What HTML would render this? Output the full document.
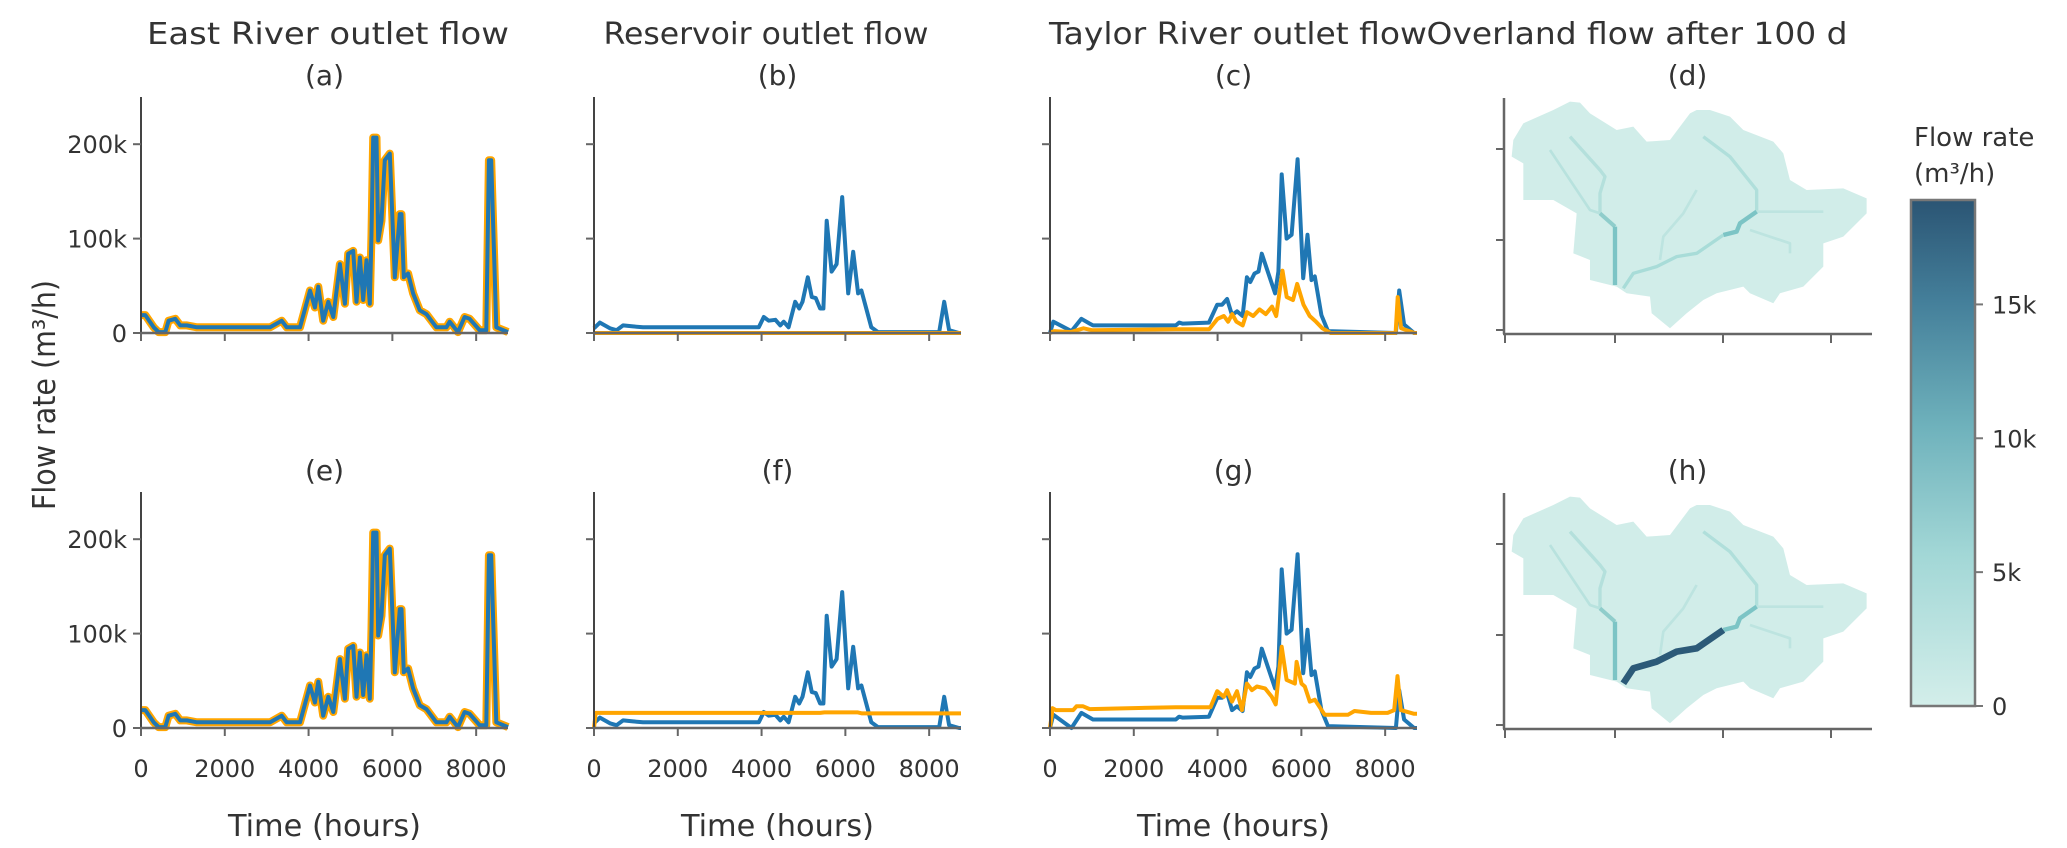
<!DOCTYPE html>
<html><head><meta charset="utf-8"><title>Flow rate panels</title>
<style>
html,body{margin:0;padding:0;background:#fff;}
svg{display:block;font-family:"DejaVu Sans","Liberation Sans",sans-serif;}
</style></head>
<body>
<svg id="fig" width="2067" height="848" viewBox="0 0 2067 848" xmlns="http://www.w3.org/2000/svg">
<defs>
<linearGradient id="cbgrad" x1="0" y1="1" x2="0" y2="0">
<stop offset="0" stop-color="#d3eeea"/>
<stop offset="0.3" stop-color="#a2d7d6"/>
<stop offset="0.55" stop-color="#6fb2bc"/>
<stop offset="0.8" stop-color="#447f9a"/>
<stop offset="1" stop-color="#2b5574"/>
</linearGradient>
</defs>
</svg>
<script>
// ---------- data (time in hours, flow in thousand m3/h) ----------
const xTicks = [0, 2000, 4000, 6000, 8000];
const xTickLabels = ["0", "2000", "4000", "6000", "8000"];
const yTicks = [0, 100, 200];
const yTickLabels = ["0", "100k", "200k"];
const cbTicks = [0, 5, 10, 15];
const cbTickLabels = ["0", "5k", "10k", "15k"];
const colTitles = ["East River outlet flow", "Reservoir outlet flow", "Taylor River outlet flow", "Overland flow after 100 d"];
const panelLabels = ["(a)", "(b)", "(c)", "(d)", "(e)", "(f)", "(g)", "(h)"];

const tA = [0,103,302,421,580,659,818,937,1096,1334,2207,3081,3359,3478,3795,4033,4152,4231,4350,4470,4589,4748,4867,4946,5065,5145,5224,5303,5383,5462,5502,5542,5621,5661,5740,5820,5939,6058,6177,6217,6272,6376,6495,6654,6812,7050,7289,7368,7567,7725,7844,8083,8242,8305,8360,8480,8760];
const aBlue = [19,19,6,1,1,13,15,8,8,6,6,6,13,6,6,45,27,49,13,33,17,73,31,84,87,33,80,35,77,31,105,207,207,98,119,183,190,59,126,126,59,63,42,24,20,6,6,12,1,17,15,3,3,183,183,6,1];
const aOrange = [19,19,6,1,1,13,15,8,8,6,6,6,13,6,6,45,27,49,13,33,17,73,31,84,87,33,80,35,77,31,105,207,207,98,119,183,190,59,126,126,59,63,42,24,20,6,6,12,1,17,15,3,3,183,183,6,1];
const eBlue = [19,19,6,1,1,13,15,8,8,6,6,6,13,6,6,45,27,49,13,33,17,73,31,84,87,33,80,35,77,31,105,207,207,98,119,183,190,59,126,126,59,63,42,24,20,6,6,12,1,17,15,3,3,183,183,6,1];
const eOrange = [19,19,6,1,1,13,15,8,8,6,6,6,13,6,6,45,27,49,13,33,17,73,31,84,87,33,80,35,77,31,105,207,207,98,119,183,190,59,126,126,59,63,42,24,20,6,6,12,1,17,15,3,3,183,183,6,1];

const tB = [0,142,379,537,695,932,1169,3934,4053,4171,4329,4447,4527,4645,4803,4898,4977,5103,5198,5293,5396,5475,5554,5672,5791,5925,6067,6186,6305,6383,6620,6778,8240,8358,8477,8714,8760];
const bBlue = [5,11,5,3,8,7,6,6,17,13,14,8,12,6,33,26,33,59,38,37,26,26,119,65,73,144,42,86,42,45,6,1,1,33,3,0,0];
const fBlue = [5,11,5,3,8,7,6,6,17,13,14,8,12,6,33,26,33,59,38,37,26,26,119,65,73,144,42,86,42,45,6,1,1,33,3,0,0];
const tBo = [0, 8760];
const bOrange = [0, 0];
const tFo = [0, 40, 5400, 5500, 6300, 6400, 8760];
const fOrange = [0, 16, 16, 16.5, 16.5, 15.5, 15.5];

const tG = [0,79,514,750,948,1027,3002,3081,3160,3792,3990,4108,4227,4345,4463,4598,4700,4780,4882,4977,5056,5214,5372,5451,5530,5648,5767,5909,6043,6146,6241,6320,6478,6636,8256,8335,8453,8690,8760];
const cBlue = [0,12,2,15,10,8,8,11,10,11,30,30,36,19,23,18,59,54,63,65,84,63,42,65,168,100,104,184,58,104,56,60,19,2,0,45,9,0,0];
const gBlue = [0,14,0,16,11,9,9,12,11,12,32,32,37,19,23,18,59,54,63,65,84,63,42,65,168,100,104,184,58,104,56,60,19,2,0,40,9,0,0];
const tCo = [0,100,500,800,1000,3000,3800,4000,4150,4250,4350,4450,4600,4700,4850,5000,5150,5300,5400,5550,5650,5800,5900,6050,6200,6350,6500,6700,8250,8300,8380,8700,8760];
const cOrange = [0,2,1,5,3,4,4,15,18,12,20,12,8,22,18,25,20,28,18,66,38,35,52,30,18,12,5,0,0,38,5,0,0];
const tGo = [0,63,142,553,632,790,948,3002,3832,3990,4148,4227,4345,4463,4582,4700,4819,4938,5135,5293,5388,5530,5648,5846,5885,6004,6083,6202,6320,6557,7110,7268,7663,8058,8216,8295,8374,8690,8760];
const gOrange = [0,21,19,19,23,23,20,22,22,39,33,40,28,39,19,47,40,44,42,33,25,86,51,47,70,47,44,28,30,14,14,18,16,16,19,55,19,15,15];

// ---------- layout ----------
const NS = "http://www.w3.org/2000/svg";
const svg = document.getElementById("fig");
const colX = [141, 594, 1050, 1504];
const plotW = 367;
const rowBottom = [333, 728];
const plotH = 236;
const yMax = 250;
const tMax = 8760;
const AX = "#444";
const BLUE = "#1f77b4", ORANGE = "#ffa500";

function mk(tag, attrs, parent) {
  const e = document.createElementNS(NS, tag);
  for (const k in attrs) e.setAttribute(k, attrs[k]);
  (parent || svg).appendChild(e);
  return e;
}
function xs(col, t) { return colX[col] + t / tMax * plotW; }
function ys(row, v) { return rowBottom[row] - v / yMax * plotH; }

// column titles
const titleCx = [328, 766, 1238, 1637];
const titleLen = [362, 325, 378, 421];
colTitles.forEach((s, i) => {
  const t = mk("text", {x: titleCx[i], y: 44, "text-anchor": "middle", "font-size": 30, fill: "#333", textLength: titleLen[i], lengthAdjust: "spacingAndGlyphs"});
  
  
  t.textContent = s;
});

// panel labels
panelLabels.forEach((s, i) => {
  const col = i % 4, row = Math.floor(i / 4);
  const t = mk("text", {x: colX[col] + plotW / 2, y: 85 + row * 395, "text-anchor": "middle", "font-size": 28, fill: "#333"});
  
  
  t.textContent = s;
});

// y axis title
const yt = mk("text", {x: 0, y: 0, transform: "translate(55,395) rotate(-90)", "text-anchor": "middle", "font-size": 31, fill: "#333", textLength: 230, lengthAdjust: "spacingAndGlyphs"});


yt.textContent = "Flow rate (m³/h)";

function line(g, ts, vs, col, row, color, w) {
  const pts = ts.map((t, i) => xs(col, t).toFixed(1) + "," + ys(row, vs[i]).toFixed(1)).join(" ");
  return mk("polyline", {points: pts, fill: "none", stroke: color, "stroke-width": w, "stroke-linejoin": "round"}, g);
}

function timePanel(col, row, series, showYLabels, showXLabels, name) {
  const g = mk("g", {});
  
  
  const x0 = colX[col], yb = rowBottom[row];
  series.forEach(s => {
    const l = line(g, s.t, s.v, col, row, s.c, s.w);
    
    
  });
  const ya = mk("line", {x1: x0, y1: yb - plotH, x2: x0, y2: yb, stroke: AX, "stroke-width": 2}, g);
  
  
  const xa = mk("line", {x1: x0 - 1, y1: yb, x2: x0 + plotW, y2: yb, stroke: "#666", "stroke-width": 2.5}, g);
  
  
  yTicks.forEach((v, i) => {
    const yy = ys(row, v);
    const tk = mk("line", {x1: x0 - 8, y1: yy, x2: x0, y2: yy, stroke: "#666", "stroke-width": 2}, g);
    
    
    if (showYLabels) {
      const tl = mk("text", {x: x0 - 14, y: yy + 9, "text-anchor": "end", "font-size": 24, fill: "#333"}, g);
      
      
      tl.textContent = yTickLabels[i];
    }
  });
  xTicks.forEach((t, i) => {
    const xx = xs(col, t);
    const tk = mk("line", {x1: xx, y1: yb, x2: xx, y2: yb + 8, stroke: "#666", "stroke-width": 2}, g);
    
    
    if (showXLabels) {
      const tl = mk("text", {x: xx, y: yb + 49, "text-anchor": "middle", "font-size": 24, fill: "#333"}, g);
      
      
      tl.textContent = xTickLabels[i];
    }
  });
  if (showXLabels) {
    const xt = mk("text", {x: x0 + plotW / 2, y: yb + 108, "text-anchor": "middle", "font-size": 30, fill: "#333", textLength: 193, lengthAdjust: "spacingAndGlyphs"}, g);
    
    
    xt.textContent = "Time (hours)";
  }
}

timePanel(0, 0, [{t: tA, v: aOrange, c: ORANGE, w: 8, n: 'series-orange'}, {t: tA, v: aBlue, c: BLUE, w: 4, n: 'series-blue'}], true, false, 'panel-a');
timePanel(1, 0, [{t: tB, v: bBlue, c: BLUE, w: 4, n: 'series-blue'}, {t: tBo, v: bOrange, c: ORANGE, w: 4, n: 'series-orange'}], false, false, 'panel-b');
timePanel(2, 0, [{t: tG, v: cBlue, c: BLUE, w: 4, n: 'series-blue'}, {t: tCo, v: cOrange, c: ORANGE, w: 4, n: 'series-orange'}], false, false, 'panel-c');
timePanel(0, 1, [{t: tA, v: eOrange, c: ORANGE, w: 8, n: 'series-orange'}, {t: tA, v: eBlue, c: BLUE, w: 4, n: 'series-blue'}], true, true, 'panel-e');
timePanel(1, 1, [{t: tB, v: fBlue, c: BLUE, w: 4, n: 'series-blue'}, {t: tFo, v: fOrange, c: ORANGE, w: 4, n: 'series-orange'}], false, true, 'panel-f');
timePanel(2, 1, [{t: tG, v: gBlue, c: BLUE, w: 4, n: 'series-blue'}, {t: tGo, v: gOrange, c: ORANGE, w: 4, n: 'series-orange'}], false, true, 'panel-g');

// ---------- maps ----------
const outline = "100,130 190,90 240,65 270,68 300,100 380,150 430,140 470,185 540,180 600,100 620,90 660,90 720,110 760,150 850,185 880,220 900,300 950,330 1060,325 1130,355 1130,400 1060,470 1000,490 1000,560 940,620 870,640 850,670 780,640 760,620 680,640 640,660 590,700 540,745 485,700 480,650 410,640 380,620 300,600 300,540 250,520 260,400 190,360 100,360 100,250 65,230 70,180";
const rivers = [
  {p: "240,170 330,270 345,290 330,340 330,400", c: "#b4e0dc", w: 10},
  {p: "180,210 300,390 330,400", c: "#b8e2de", w: 8},
  {p: "330,400 375,440", c: "#8fcdcb", w: 12},
  {p: "375,440 375,615", c: "#7cc4c5", w: 13},
  {p: "640,170 720,230 800,330 800,395", c: "#b0dfdb", w: 10},
  {p: "800,395 1000,395", c: "#bde4e0", w: 8},
  {p: "780,450 900,490 900,520", c: "#bde4e0", w: 8},
  {p: "510,540 520,470 580,400 620,330", c: "#bde4e0", w: 8},
  {p: "800,395 750,430 740,455 700,465", c: "#7cc4c5", w: 13}
];
const mainRiver = "400,625 430,580 500,560 560,530 620,520 700,465";

function mapPanel(row, name, dark) {
  const g = mk("g", {});
  
  
  const inner = mk("g", {transform: "translate(1490," + (80 + row * 395) + ") scale(0.3333)"}, g);
  const poly = mk("polygon", {points: outline, fill: "#d1ede9"}, inner);
  
  
  rivers.forEach(r => {
    const pl = mk("polyline", {points: r.p, fill: "none", stroke: r.c, "stroke-width": r.w, "stroke-linejoin": "round"}, inner);
    
    
  });
  const mr = mk("polyline", {points: mainRiver, fill: "none", stroke: dark ? "#2c5a78" : "#a8dcd8", "stroke-width": dark ? 20 : 10, "stroke-linejoin": "round"}, inner);
  
  
  const yb = rowBottom[row] + 1;
  const ya = mk("line", {x1: 1504, y1: yb - plotH, x2: 1504, y2: yb, stroke: "#666", "stroke-width": 2.5}, g);
  
  
  const xa = mk("line", {x1: 1503, y1: yb, x2: 1872, y2: yb, stroke: "#666", "stroke-width": 2.5}, g);
  
  
  [149, 240, 330].forEach(y => {
    const tk = mk("line", {x1: 1496, y1: y + row * 395, x2: 1504, y2: y + row * 395, stroke: "#666", "stroke-width": 2}, g);
    
    
  });
  [1505, 1615, 1723, 1831].forEach(x => {
    const tk = mk("line", {x1: x, y1: yb, x2: x, y2: yb + 9, stroke: "#666", "stroke-width": 2}, g);
    
    
  });
}
mapPanel(0, 'panel-d', false);
mapPanel(1, 'panel-h', true);

// ---------- colorbar ----------
const cbTop = 200, cbBot = 706, cbX = 1911, cbW = 64, cbMax = 18.9;
const cbg = mk("g", {});


const cbr = mk("rect", {x: cbX, y: cbTop, width: cbW, height: cbBot - cbTop, fill: "url(#cbgrad)", stroke: "#777", "stroke-width": 2.5}, cbg);


cbTicks.forEach((v, i) => {
  const y = cbBot - v / cbMax * (cbBot - cbTop);
  const tk = mk("line", {x1: cbX + cbW, y1: y, x2: cbX + cbW + 8, y2: y, stroke: "#777", "stroke-width": 2}, cbg);
  
  
  const tl = mk("text", {x: 1992, y: y + 9, "font-size": 24, fill: "#333"}, cbg);
  
  
  tl.textContent = cbTickLabels[i];
});
const ct1 = mk("text", {x: 1914, y: 146, "font-size": 26, fill: "#333"}, cbg);


ct1.textContent = "Flow rate";
const ct2 = mk("text", {x: 1914, y: 182, "font-size": 26, fill: "#333"}, cbg);


ct2.textContent = "(m³/h)";
</script>
</body></html>
